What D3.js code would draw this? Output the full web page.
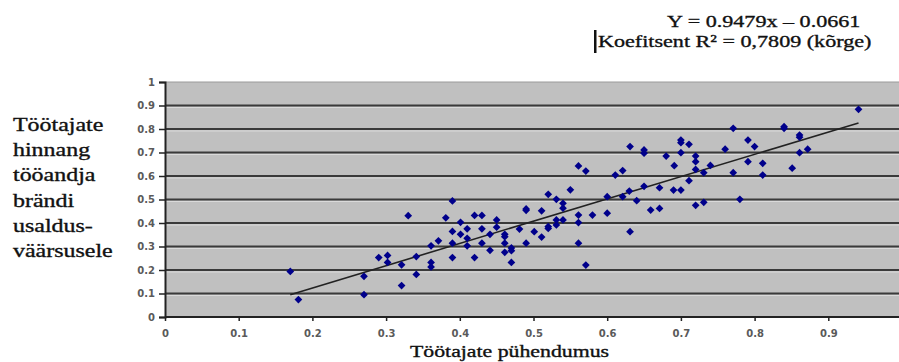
<!DOCTYPE html>
<html>
<head>
<meta charset="utf-8">
<script src="https://cdn.jsdelivr.net/npm/d3@7"></script>
<style>
  body { margin: 0; background: #fff; }
  svg { display: block; }
</style>
</head>
<body>
<svg id="chart" width="899" height="362"></svg>
<script>
// Töötajate pühendumus (x) vs hinnang tööandja brändi usaldusväärsusele (y)
const puhendumus = [
  0.170,0.181,0.270,0.270,0.290,0.302,0.302,0.321,0.321,0.330,
  0.341,0.341,0.361,0.361,0.361,0.371,0.381,0.390,0.390,0.390,
  0.390,0.401,0.401,0.410,0.410,0.410,0.420,0.430,0.420,0.430,
  0.430,0.441,0.441,0.450,0.450,0.461,0.461,0.461,0.461,0.470,
  0.470,0.470,0.481,0.490,0.490,0.490,0.501,0.511,0.511,0.520,
  0.520,0.520,0.531,0.531,0.531,0.540,0.540,0.540,0.550,0.561,
  0.571,0.561,0.561,0.561,0.571,0.580,0.600,0.600,0.611,0.621,
  0.621,0.630,0.640,0.631,0.631,0.650,0.650,0.650,0.659,0.671,
  0.671,0.680,0.690,0.700,0.691,0.700,0.700,0.700,0.711,0.711,
  0.720,0.720,0.720,0.720,0.731,0.731,0.740,0.760,0.771,0.771,
  0.780,0.791,0.791,0.800,0.811,0.811,0.840,0.840,0.851,0.861,
  0.861,0.861,0.872,0.941
];
const hinnang = [
  0.194,0.074,0.173,0.095,0.253,0.262,0.232,0.222,0.134,0.431,
  0.257,0.181,0.303,0.232,0.213,0.324,0.422,0.494,0.364,0.314,
  0.253,0.403,0.352,0.375,0.335,0.303,0.432,0.432,0.253,0.375,
  0.314,0.352,0.284,0.413,0.382,0.352,0.342,0.314,0.275,0.294,
  0.282,0.232,0.374,0.460,0.454,0.314,0.363,0.452,0.340,0.522,
  0.377,0.385,0.501,0.413,0.392,0.484,0.463,0.413,0.541,0.643,
  0.621,0.434,0.402,0.314,0.221,0.434,0.512,0.442,0.604,0.623,
  0.512,0.536,0.495,0.725,0.363,0.711,0.697,0.556,0.455,0.462,
  0.550,0.685,0.540,0.540,0.644,0.753,0.742,0.699,0.735,0.580,
  0.685,0.661,0.628,0.475,0.614,0.488,0.645,0.714,0.803,0.614,
  0.501,0.753,0.661,0.725,0.654,0.604,0.810,0.803,0.633,0.774,
  0.765,0.699,0.714,0.884
];
const slope = 0.9479;
const intercept = -0.0661;
const xTicks = [0, 0.1, 0.2, 0.3, 0.4, 0.5, 0.6, 0.7, 0.8, 0.9];
const yTicks = [0, 0.1, 0.2, 0.3, 0.4, 0.5, 0.6, 0.7, 0.8, 0.9, 1];
const yTitleLines = ['Töötajate', 'hinnang', 'tööandja', 'brändi', 'usaldus-', 'väärsusele'];
const xTitle = 'Töötajate pühendumus';
const eqLines = ['Y = 0.9479x \u2013 0.0661', 'Koefitsent R\u00B2 = 0,7809 (kõrge)'];

const svg = d3.select('#chart');
const x = d3.scaleLinear().domain([0, 1]).range([165, 902]);
const y = d3.scaleLinear().domain([0, 1]).range([317, 82]);
const serif = '"Liberation Serif", "Times New Roman", serif';

// the picture is stretched sideways, so widen serif text to match
function stretch(sel, k) {
  sel.each(function() {
    const w = this.getComputedTextLength();
    d3.select(this).attr('textLength', w * k).attr('lengthAdjust', 'spacingAndGlyphs');
  });
}
// serif text in the source is heavy, thicken it a little
function heavy(sel) {
  sel.attr('fill', '#111').attr('stroke', '#111').attr('stroke-width', 0.35);
}

// plot background
svg.append('rect')
  .attr('x', x(0)).attr('y', y(1))
  .attr('width', 899 - x(0)).attr('height', y(0) - y(1))
  .attr('fill', '#c0c0c0');

svg.append('line')
  .attr('x1', x(0)).attr('x2', 899)
  .attr('y1', y(1)).attr('y2', y(1))
  .attr('stroke', '#9a9a9a').attr('stroke-width', 1);

const grid = svg.append('g');
grid.selectAll('line.hi')
  .data(yTicks.filter(d => d > 0 && d < 1))
  .join('line')
  .attr('class', 'hi')
  .attr('x1', x(0)).attr('x2', 899)
  .attr('y1', d => y(d) + 2).attr('y2', d => y(d) + 2)
  .attr('stroke', '#dadada').attr('stroke-width', 1);
grid.selectAll('line.g')
  .data(yTicks.filter(d => d > 0 && d < 1))
  .join('line')
  .attr('class', 'g')
  .attr('x1', x(0)).attr('x2', 899)
  .attr('y1', d => y(d)).attr('y2', d => y(d))
  .attr('stroke', '#3a3a3a').attr('stroke-width', 2);

// axes
const fmt = d => d3.format('')(+d.toFixed(1));
const yAxis = svg.append('g')
  .attr('transform', `translate(${x(0)},0)`)
  .call(d3.axisLeft(y).tickValues(yTicks).tickSize(6).tickPadding(4).tickFormat(fmt));
const xAxis = svg.append('g')
  .attr('transform', `translate(0,${y(0)})`)
  .call(d3.axisBottom(x).tickValues(xTicks).tickSize(4).tickPadding(9).tickFormat(fmt));

[yAxis, xAxis].forEach(a => {
  a.select('.domain').attr('stroke', '#222').attr('stroke-width', 2);
  a.selectAll('.tick line').attr('stroke', '#222').attr('stroke-width', 1.5);
  a.selectAll('.tick text')
    .attr('fill', '#5a5a5a')
    .attr('font-family', '"DejaVu Sans", Verdana, sans-serif')
    .attr('font-size', 10)
    .attr('font-weight', 'bold');
});
xAxis.select('.domain').attr('d', `M${x(0)},0H899`);

// trend line
const xs = d3.extent(puhendumus);
svg.append('path')
  .datum(xs.map(v => [v, slope * v + intercept]))
  .attr('fill', 'none')
  .attr('stroke', '#222')
  .attr('stroke-width', 1.6)
  .attr('d', d3.line().x(d => x(d[0])).y(d => y(d[1])));

// points
const diamond = d3.symbol(d3.symbolSquare, 30);
svg.append('g')
  .selectAll('path')
  .data(puhendumus.map((v, i) => [v, hinnang[i]]))
  .join('path')
  .attr('transform', d => `translate(${x(d[0])},${y(d[1])}) rotate(45)`)
  .attr('d', diamond)
  .attr('fill', '#00008b');

// y title
svg.append('g').selectAll('text')
  .data(yTitleLines)
  .join('text')
  .attr('x', 13)
  .attr('y', (d, i) => 131 + i * 25.2)
  .attr('font-family', serif)
  .attr('font-size', 18)
  .text(d => d)
  .call(heavy)
  .call(stretch, 1.33);

// x title
svg.append('text')
  .attr('x', 410).attr('y', 357)
  .attr('font-family', serif)
  .attr('font-size', 16.5)
  .text(xTitle)
  .call(heavy)
  .call(stretch, 1.32);

// equation
svg.append('text')
  .attr('x', 667).attr('y', 27)
  .attr('font-family', serif)
  .attr('font-size', 17)
  .text(eqLines[0])
  .call(heavy)
  .call(stretch, 1.3);
svg.append('text')
  .attr('x', 598).attr('y', 47)
  .attr('font-family', serif)
  .attr('font-size', 17)
  .text(eqLines[1])
  .call(heavy)
  .call(stretch, 1.3);
svg.append('rect')
  .attr('x', 594).attr('y', 30).attr('width', 2.5).attr('height', 23)
  .attr('fill', '#111');
</script>
</body>
</html>
